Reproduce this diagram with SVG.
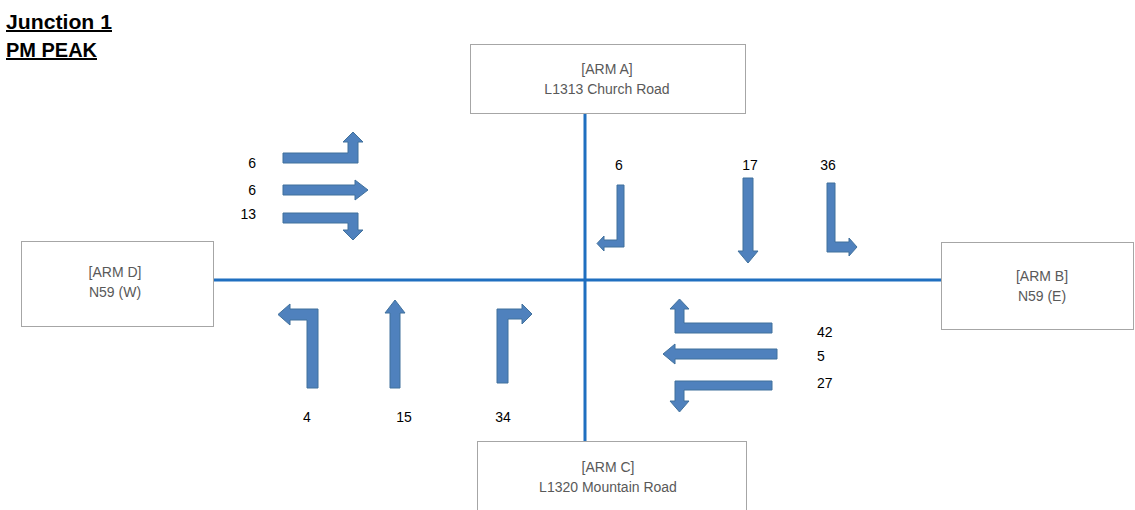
<svg xmlns="http://www.w3.org/2000/svg" width="1135" height="510" viewBox="0 0 1135 510">
<style>
.box{fill:#fff;stroke:#a6a6a6;stroke-width:1}
.bt{font-family:"Liberation Sans",Arial,sans-serif;font-size:14px;fill:#595959;text-anchor:middle}
.num{font-family:"Liberation Sans",Arial,sans-serif;font-size:14px;fill:#000}
.arr{fill:#4f81bd;stroke:#41719c;stroke-width:1}
.road{stroke:#1f6fc0;stroke-width:3;fill:none}
.title{font-family:"Liberation Sans",Arial,sans-serif;font-size:20px;font-weight:bold;fill:#000;text-decoration:underline}
</style>
<rect width="1135" height="510" fill="#fff"/>
<g id="title">
<text class="title" x="6" y="29" textLength="106" lengthAdjust="spacingAndGlyphs">Junction 1</text>
<text class="title" x="6" y="57" textLength="91" lengthAdjust="spacingAndGlyphs">PM PEAK</text>
</g>
<g id="connectors">
<line class="road" x1="585" y1="113" x2="585" y2="441"/>
<line class="road" x1="213" y1="280" x2="941" y2="280"/>
</g>
<g id="armA">
<rect class="box" x="470.5" y="44.5" width="275" height="69"/>
<text class="bt" x="607" y="74">[ARM A]</text>
<text class="bt" x="607" y="94">L1313 Church Road</text>
</g>
<g id="armB">
<rect class="box" x="941.5" y="242.5" width="192" height="87"/>
<text class="bt" x="1042" y="281">[ARM B]</text>
<text class="bt" x="1042" y="301">N59 (E)</text>
</g>
<g id="armC">
<rect class="box" x="477.5" y="441.5" width="269" height="80"/>
<text class="bt" x="608" y="472">[ARM C]</text>
<text class="bt" x="608" y="492">L1320 Mountain Road</text>
</g>
<g id="armD">
<rect class="box" x="21.5" y="241.5" width="192" height="85"/>
<text class="bt" x="115" y="277">[ARM D]</text>
<text class="bt" x="115" y="297">N59 (W)</text>
</g>
<g id="movementsD">
<polygon class="arr" points="283,153 348,153 348,142 343,142 353,132 363,142 358,142 358,163 283,163"/>
<polygon class="arr" points="283,185 355,185 355,180 368,190 355,200 355,195 283,195"/>
<polygon class="arr" points="283,213 358,213 358,230 363,230 353,240 343,230 348,230 348,223 283,223"/>
<text class="num" x="256" y="168" text-anchor="end">6</text>
<text class="num" x="256" y="195" text-anchor="end">6</text>
<text class="num" x="256" y="219" text-anchor="end">13</text>
</g>
<g id="movementsA">
<polygon class="arr" points="617,185 624,185 624,247 604,247 604,251 597,243.5 604,236 604,240 617,240"/>
<polygon class="arr" points="743,178 753,178 753,251 758,251 748,263 738,251 743,251"/>
<polygon class="arr" points="827,183 835,183 835,242 849,242 849,238 857,247 849,256 849,252 827,252"/>
<text class="num" x="619" y="170" text-anchor="middle">6</text>
<text class="num" x="750" y="170" text-anchor="middle">17</text>
<text class="num" x="828" y="170" text-anchor="middle">36</text>
</g>
<g id="movementsC">
<polygon class="arr" points="318,388 307,388 307,320 290,320 290,325 278,314.5 290,304 290,309 318,309"/>
<polygon class="arr" points="390,388 400,388 400,313 405,313 395,300 385,313 390,313"/>
<polygon class="arr" points="497,383 508,383 508,319 522,319 522,324 532,314 522,304 522,309 497,309"/>
<text class="num" x="307" y="422" text-anchor="middle">4</text>
<text class="num" x="404" y="422" text-anchor="middle">15</text>
<text class="num" x="503" y="422" text-anchor="middle">34</text>
</g>
<g id="movementsB">
<polygon class="arr" points="772,323 684,323 684,309 689,309 679.5,299 670,309 675,309 675,333 772,333"/>
<polygon class="arr" points="777,349 675,349 675,344 663,354 675,364 675,359 777,359"/>
<polygon class="arr" points="772,381 675,381 675,401 670,401 679.5,412 689,401 684,401 684,390 772,390"/>
<text class="num" x="817" y="337">42</text>
<text class="num" x="817" y="361">5</text>
<text class="num" x="817" y="388">27</text>
</g>
</svg>
